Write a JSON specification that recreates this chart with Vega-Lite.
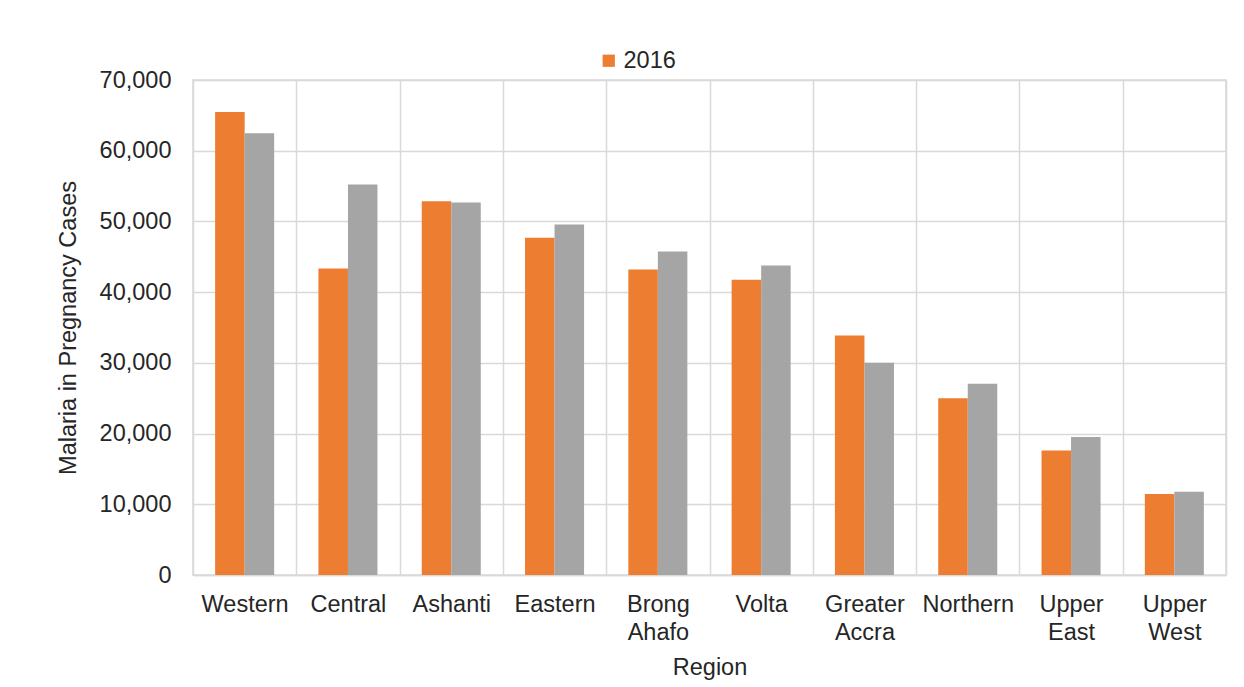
{
  "$schema": "https://vega.github.io/schema/vega-lite/v6.json",
  "autosize": "none",
  "width": 1033,
  "height": 495,
  "padding": {"left": 193, "top": 80, "right": 18, "bottom": 112},
  "background": "white",
  "data": {
    "values": [
      {"region": "Western", "year": "2016", "cases": 65460},
      {"region": "Western", "year": "2017", "cases": 62470},
      {"region": "Central", "year": "2016", "cases": 43330},
      {"region": "Central", "year": "2017", "cases": 55230},
      {"region": "Ashanti", "year": "2016", "cases": 52850},
      {"region": "Ashanti", "year": "2017", "cases": 52660},
      {"region": "Eastern", "year": "2016", "cases": 47700},
      {"region": "Eastern", "year": "2017", "cases": 49550},
      {"region": "Brong Ahafo", "year": "2016", "cases": 43200},
      {"region": "Brong Ahafo", "year": "2017", "cases": 45760},
      {"region": "Volta", "year": "2016", "cases": 41760},
      {"region": "Volta", "year": "2017", "cases": 43760},
      {"region": "Greater Accra", "year": "2016", "cases": 33860},
      {"region": "Greater Accra", "year": "2017", "cases": 30000},
      {"region": "Northern", "year": "2016", "cases": 25000},
      {"region": "Northern", "year": "2017", "cases": 27030},
      {"region": "Upper East", "year": "2016", "cases": 17600},
      {"region": "Upper East", "year": "2017", "cases": 19530},
      {"region": "Upper West", "year": "2016", "cases": 11460},
      {"region": "Upper West", "year": "2017", "cases": 11780}
    ]
  },
  "mark": {"type": "bar"},
  "encoding": {
    "x": {
      "field": "region",
      "type": "nominal",
      "sort": null,
      "scale": {"paddingInner": 0, "paddingOuter": 0},
      "axis": {
        "title": "Region",
        "labelAngle": 0,
        "labelExpr": "split(datum.label, ' ')",
        "labelLineHeight": 28,
        "labelPadding": 17,
        "ticks": false,
        "tickBand": "extent",
        "grid": true,
        "titlePadding": 12
      }
    },
    "xOffset": {
      "field": "year",
      "type": "nominal",
      "scale": {"paddingInner": 0, "paddingOuter": 0.75}
    },
    "y": {
      "field": "cases",
      "type": "quantitative",
      "scale": {"domain": [0, 70000]},
      "axis": {
        "title": "Malaria in Pregnancy Cases",
        "values": [0, 10000, 20000, 30000, 40000, 50000, 60000, 70000],
        "format": ",d",
        "ticks": false,
        "labelPadding": 22,
        "titlePadding": 19,
        "domain": false
      }
    },
    "color": {
      "field": "year",
      "type": "nominal",
      "scale": {"domain": ["2016", "2017"], "range": ["#ED7D31", "#A5A5A5"]},
      "legend": {
        "title": null,
        "values": ["2016"],
        "orient": "none",
        "legendX": 404,
        "legendY": -31,
        "symbolType": "square",
        "symbolSize": 150,
        "symbolStrokeWidth": 0,
        "labelOffset": 3,
        "padding": 0
      }
    }
  },
  "config": {
    "font": "Liberation Sans",
    "view": {"stroke": "#d9d9d9", "strokeWidth": 1.5},
    "axis": {
      "labelFont": "Liberation Sans",
      "titleFont": "Liberation Sans",
      "labelFontSize": 23.5,
      "titleFontSize": 23.5,
      "labelColor": "#262626",
      "titleColor": "#262626",
      "titleFontWeight": "normal",
      "gridColor": "#d9d9d9",
      "gridWidth": 1.5,
      "gridOpacity": 1,
      "domainColor": "#d9d9d9",
      "domainWidth": 1.5
    },
    "legend": {
      "labelFont": "Liberation Sans",
      "labelFontSize": 23.5,
      "labelColor": "#262626"
    }
  }
}
